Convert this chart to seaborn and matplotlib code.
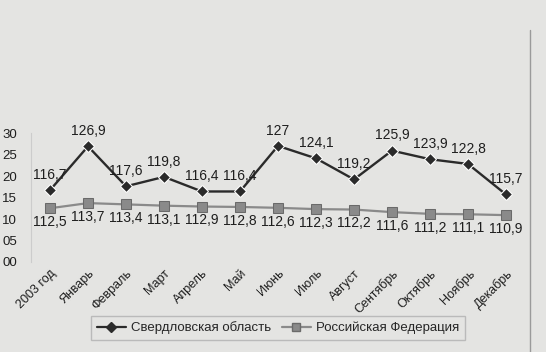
import pandas as pd
import matplotlib.pyplot as plt
import seaborn as sns
from matplotlib.lines import Line2D

# данные: индексы (предыдущий период = 100)
periods = ['2003 год', 'Январь', 'Февраль', 'Март', 'Апрель', 'Май', 'Июнь',
           'Июль', 'Август', 'Сентябрь', 'Октябрь', 'Ноябрь', 'Декабрь']
sverdl = [116.7, 126.9, 117.6, 119.8, 116.4, 116.4, 127.0,
          124.1, 119.2, 125.9, 123.9, 122.8, 115.7]
russia = [112.5, 113.7, 113.4, 113.1, 112.9, 112.8, 112.6,
          112.3, 112.2, 111.6, 111.2, 111.1, 110.9]
sverdl_labels = ['116,7', '126,9', '117,6', '119,8', '116,4', '116,4', '127',
                 '124,1', '119,2', '125,9', '123,9', '122,8', '115,7']
russia_labels = ['112,5', '113,7', '113,4', '113,1', '112,9', '112,8', '112,6',
                 '112,3', '112,2', '111,6', '111,2', '111,1', '110,9']
yticks = [0, 5, 10, 15, 20, 25, 30]
ytick_labels = ['00', '05', '10', '15', '20', '25', '30']

sns.set_style('white')
plt.rcParams['font.family'] = ['Liberation Sans', 'DejaVu Sans']

bg = '#e4e4e2'
df = pd.DataFrame({'x': range(len(periods)),
                   'sv': [v - 100 for v in sverdl],
                   'ru': [v - 100 for v in russia]})

fig = plt.figure(figsize=(5.46, 3.52), dpi=100, facecolor=bg)
ax = fig.add_axes([31 / 546, 90 / 352, 494 / 546, 129 / 352], facecolor=bg)

sns.lineplot(data=df, x='x', y='ru', ax=ax, color='#8a8a8a', marker='s',
             markersize=7, linewidth=1.6, markeredgecolor='#6a6a6a',
             label='Российская Федерация')
sns.lineplot(data=df, x='x', y='sv', ax=ax, color='#2a2a2a', marker='D',
             markersize=6, linewidth=1.7, label='Свердловская область')

for i in range(len(periods)):
    ax.annotate(sverdl_labels[i], (i, df['sv'][i]), xytext=(0, 6),
                textcoords='offset points', ha='center', va='bottom',
                fontsize=10, color='#1e1e1e', clip_on=False)
    ax.annotate(russia_labels[i], (i, df['ru'][i]), xytext=(0, -5),
                textcoords='offset points', ha='center', va='top',
                fontsize=10, color='#1e1e1e', clip_on=False)

ax.set_xlim(-0.5, len(periods) - 0.5)
ax.set_ylim(0, 30)
ax.set_yticks(yticks)
ax.set_yticklabels(ytick_labels, fontsize=9.5, color='#1e1e1e')
ax.set_xticks(range(len(periods)))
ax.set_xticklabels(periods, rotation=45, ha='right', va='top',
                   rotation_mode='anchor', fontsize=9, color='#1e1e1e')
ax.tick_params(axis='y', length=0, pad=10)
ax.tick_params(axis='x', length=0, pad=4)
ax.set_xlabel('')
ax.set_ylabel('')
for s in ['top', 'right', 'bottom']:
    ax.spines[s].set_visible(False)
ax.spines['left'].set_color('#cccccc')
ax.legend_.remove()

handles = [Line2D([], [], color='#2a2a2a', marker='D', markersize=5, linewidth=1.6),
           Line2D([], [], color='#8a8a8a', marker='s', markersize=6, linewidth=1.6,
                  markeredgecolor='#6a6a6a')]
fig.legend(handles, ['Свердловская область', 'Российская Федерация'],
           loc='center', bbox_to_anchor=(278 / 546, 1 - 328 / 352), ncol=2,
           fontsize=9.5, frameon=True, facecolor=bg, edgecolor='#b0b0b0',
           fancybox=False, handlelength=2.2, handletextpad=0.4,
           columnspacing=0.8, borderpad=0.4)

# рамка справа
fig.add_artist(Line2D([530 / 546, 530 / 546], [0, 1 - 30 / 352],
                      color='#9a9a9a', linewidth=1))

fig.savefig('out.png', dpi=100, facecolor=bg)
